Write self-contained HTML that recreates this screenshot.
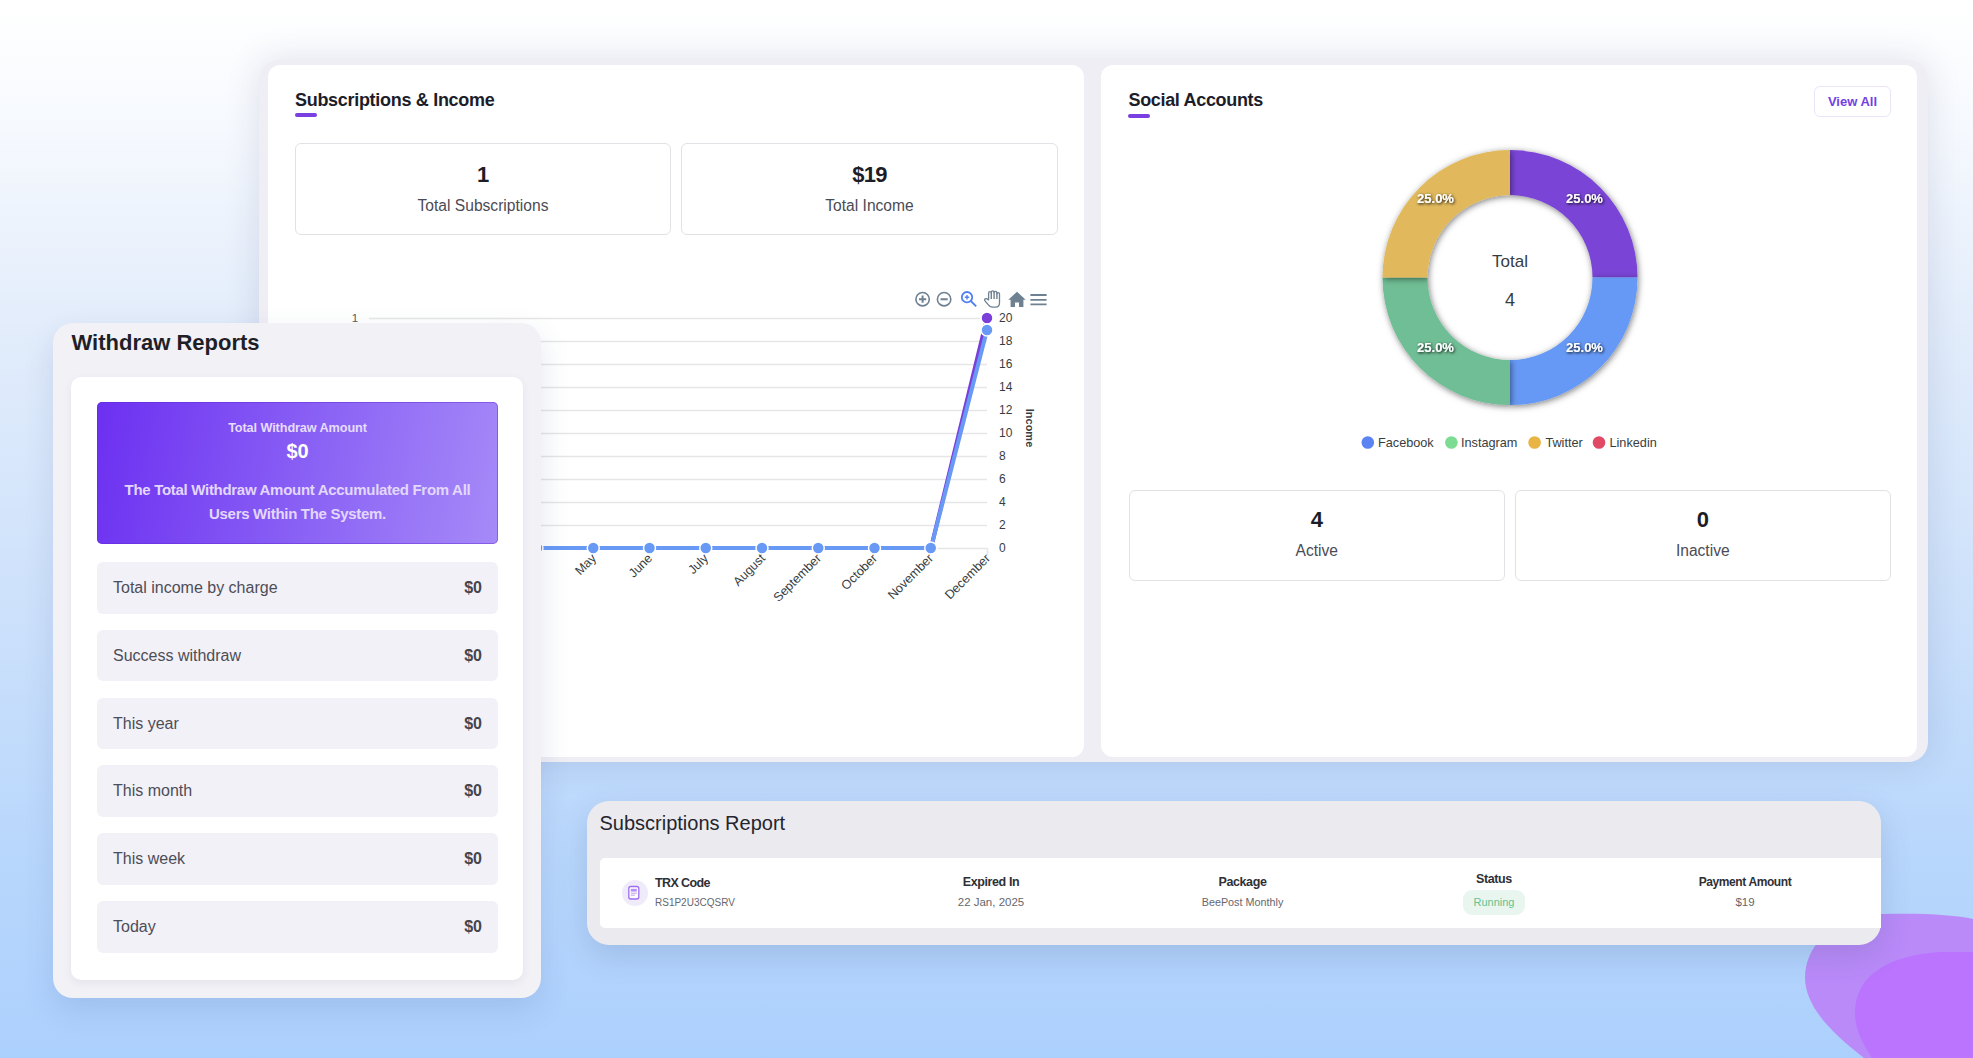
<!DOCTYPE html>
<html><head><meta charset="utf-8">
<style>
*{box-sizing:border-box;margin:0;padding:0}
html,body{width:1973px;height:1058px;overflow:hidden}
body{position:relative;font-family:"Liberation Sans",sans-serif;
background:linear-gradient(180deg,#ffffff 0%,#f6f9fe 12%,#e3edfb 30%,#cfe2fb 55%,#b9d7fc 80%,#acd0fd 100%);}
.abs{position:absolute;white-space:nowrap}
.frame{left:259px;top:60px;width:1669px;height:702px;border-radius:20px;background:#efeef4;box-shadow:0 0 35px rgba(40,50,90,.13)}
.card{background:#fff;border-radius:12px;top:65px;height:692px}
.c1{left:268px;width:816px}
.c2{left:1101px;width:816px}
.title{font-weight:bold;color:#1d1d29;font-size:18px;line-height:18px}
.uline{height:4px;width:22px;border-radius:3px;background:#7a3fe0}
.sbox{border:1.5px solid #e2e2e6;border-radius:6px;background:#fff}
.num{font-weight:bold;color:#1d1d28;font-size:22px;line-height:22px;text-align:center}
.lbl{color:#4b4b55;font-size:15.6px;line-height:16px;text-align:center}
.wpanel{left:53px;top:323px;width:488px;height:675px;border-radius:20px;background:#f2f1f6;box-shadow:0 12px 30px rgba(60,80,140,.14)}
.wcard{left:71px;top:377px;width:452px;height:603px;border-radius:10px;background:#fff;box-shadow:0 3px 8px rgba(60,60,100,.07)}
.row{position:absolute;left:97px;width:401px;height:51.5px;border-radius:6px;background:#f2f1f7}
.row .t{position:absolute;left:16px;top:0;line-height:51px;font-size:16px;color:#4d4d57;white-space:nowrap}
.row .v{position:absolute;right:16px;top:0;line-height:51px;font-size:16px;font-weight:bold;color:#45454e}
.rpanel{left:587px;top:801px;width:1294px;height:144px;border-radius:22px;background:#ebebef;box-shadow:0 10px 30px rgba(60,80,130,.18);overflow:hidden}
.cl{font-size:12px;fill:#373d3f;font-family:"Liberation Sans",sans-serif}
</style></head><body>
<svg class="abs" style="left:0;top:0" width="1973" height="1058">
<path d="M1882 914 C1925 913 1955 915 1973 919 L1973 1058 L1864 1058 C1828 1030 1805 1005 1805 977 C1805 950 1828 916 1882 914 Z" fill="#b98af8"/>
<path d="M1941 952 L1973 952 L1973 1058 L1872 1058 C1862 1042 1855 1030 1855 1012 C1855 975 1890 955 1941 952 Z" fill="#ba74fe"/>
</svg>

<div class="abs frame"></div>
<div class="abs card c1"></div>
<div class="abs card c2"></div>

<!-- Card 1 -->
<div class="abs title" style="left:295px;top:91px;letter-spacing:-0.3px">Subscriptions &amp; Income</div>
<div class="abs uline" style="left:295px;top:113px"></div>
<div class="abs sbox" style="left:295px;top:143px;width:376px;height:92px"></div>
<div class="abs sbox" style="left:681px;top:143px;width:377px;height:92px"></div>
<div class="abs num" style="left:295px;width:376px;top:163.5px">1</div>
<div class="abs lbl" style="left:295px;width:376px;top:197.5px">Total Subscriptions</div>
<div class="abs num" style="left:681px;width:377px;top:163.5px;letter-spacing:-0.8px">$19</div>
<div class="abs lbl" style="left:681px;width:377px;top:197.5px">Total Income</div>

<!-- Chart -->
<svg class="abs" style="left:268px;top:260px" width="816" height="380" viewBox="268 260 816 380">
<g stroke="#e6e6e6" stroke-width="1.6">
<line x1="369" x2="987" y1="318.5" y2="318.5"/><line x1="369" x2="987" y1="341.5" y2="341.5"/>
<line x1="369" x2="987" y1="364.5" y2="364.5"/><line x1="369" x2="987" y1="387.5" y2="387.5"/>
<line x1="369" x2="987" y1="410.5" y2="410.5"/><line x1="369" x2="987" y1="433.5" y2="433.5"/>
<line x1="369" x2="987" y1="456.5" y2="456.5"/><line x1="369" x2="987" y1="479.5" y2="479.5"/>
<line x1="369" x2="987" y1="502.5" y2="502.5"/><line x1="369" x2="987" y1="525.5" y2="525.5"/>
<line x1="369" x2="987" y1="548.5" y2="548.5"/>
<line x1="987.5" x2="987.5" y1="548" y2="555"/>
</g>
<text x="355" y="322" text-anchor="middle" style="font-size:11.5px;fill:#555a5e;font-family:'Liberation Sans'">1</text>
<g class="cl">
<text class="cl" x="999" y="322">20</text><text class="cl" x="999" y="345">18</text>
<text class="cl" x="999" y="368">16</text><text class="cl" x="999" y="391">14</text>
<text class="cl" x="999" y="414">12</text><text class="cl" x="999" y="437">10</text>
<text class="cl" x="999" y="460">8</text><text class="cl" x="999" y="483">6</text>
<text class="cl" x="999" y="506">4</text><text class="cl" x="999" y="529">2</text>
<text class="cl" x="999" y="552">0</text>
</g>
<text x="1026" y="428" transform="rotate(90 1026 428)" text-anchor="middle" style="font-size:11px;font-weight:bold;fill:#373d3f;font-family:'Liberation Sans'">Income</text>
<polyline points="368,548 931,548 987,318" fill="none" stroke="#7a3fd8" stroke-width="4" stroke-linejoin="round"/>
<polyline points="368,548 931,548 987,330" fill="none" stroke="#6899f5" stroke-width="4" stroke-linejoin="round"/>
<g fill="#6899f5" stroke="#fff" stroke-width="1.5">
<circle cx="368.25" cy="548" r="6"/><circle cx="424.5" cy="548" r="6"/><circle cx="480.75" cy="548" r="6"/>
<circle cx="537" cy="548" r="6"/><circle cx="593.25" cy="548" r="6"/><circle cx="649.5" cy="548" r="6"/>
<circle cx="705.75" cy="548" r="6"/><circle cx="762" cy="548" r="6"/><circle cx="818.25" cy="548" r="6"/>
<circle cx="874.5" cy="548" r="6"/><circle cx="930.75" cy="548" r="6"/>
</g>
<circle cx="987" cy="318" r="6" fill="#7a3fd8" stroke="#fff" stroke-width="1.5"/>
<circle cx="987" cy="330" r="6" fill="#6899f5" stroke="#fff" stroke-width="1.5"/>
<g text-anchor="end" style="font-size:12.6px;fill:#373d3f;font-family:'Liberation Sans'">
<text transform="translate(597 559) rotate(-45)">May</text>
<text transform="translate(653 559) rotate(-45)">June</text>
<text transform="translate(709 559) rotate(-45)">July</text>
<text transform="translate(766 559) rotate(-45)">August</text>
<text transform="translate(822 559) rotate(-45)">September</text>
<text transform="translate(878 559) rotate(-45)">October</text>
<text transform="translate(934 559) rotate(-45)">November</text>
<text transform="translate(991 559) rotate(-45)">December</text>
</g>
<!-- toolbar -->
<g fill="none" stroke="#6e8192" stroke-width="1.6">
<circle cx="922.6" cy="299.2" r="6.7"/>
<circle cx="944.1" cy="299.2" r="6.7"/>
</g>
<g stroke="#6e8192" stroke-width="2"><path d="M922.6 295.6v7.2M919 299.2h7.2M940.5 299.2h7.2"/></g>
<g fill="none" stroke="#4f7ff3" stroke-width="1.8">
<circle cx="967" cy="297.2" r="5.2"/><path d="M970.8 301l5.4 5.3"/>
</g>
<path d="M967 295v4.4M964.8 297.2h4.4" stroke="#4f7ff3" stroke-width="1.4"/>
<path d="M988.6 299.8 L988.6 293.2 Q988.6 291.6 990 291.6 Q991.3 291.6 991.3 293.2 L991.3 292.4 Q991.3 290.9 992.7 290.9 Q994.1 290.9 994.1 292.4 L994.1 292.9 Q994.1 291.4 995.5 291.4 Q996.9 291.4 996.9 292.9 L996.9 294 Q996.9 292.6 998.2 292.6 Q999.5 292.6 999.5 294 L999.5 302.8 Q999.5 307.2 995.6 307.2 L992.4 307.2 Q990.2 307.2 988.6 305.2 L985 300.9 Q984.1 299.6 985.3 298.9 Q986.6 298.2 987.6 299.3 Z" fill="#fff" stroke="#6e8192" stroke-width="1.3" stroke-linejoin="round"/>
<path d="M991.3 293v6M994.1 292.5v6.5M996.9 293v6" stroke="#6e8192" stroke-width="1.4"/>
<path d="M1017 291.7 L1008.3 299.8 L1010.6 299.8 L1010.6 307 L1015 307 L1015 302.4 L1019 302.4 L1019 307 L1023.4 307 L1023.4 299.8 L1025.7 299.8 Z" fill="#6e8192"/>
<g stroke="#6e8192" stroke-width="1.8"><path d="M1030.4 295h16.2M1030.4 299.8h16.2M1030.4 304.4h16.2"/></g>
</svg>

<!-- Card 2 -->
<div class="abs title" style="left:1128.5px;top:91px;letter-spacing:-0.33px">Social Accounts</div>
<div class="abs uline" style="left:1128px;top:113.5px"></div>
<div class="abs" style="left:1814px;top:86px;width:77px;height:31px;border:1px solid #ece4fb;border-radius:6px;text-align:center;line-height:29px;font-size:13px;font-weight:bold;color:#7340e2">View All</div>

<svg class="abs" style="left:1360px;top:130px" width="300" height="300" viewBox="1360 130 300 300">
<defs><filter id="ds" x="-20%" y="-20%" width="140%" height="140%"><feDropShadow dx="1" dy="1.5" stdDeviation="3" flood-color="#000" flood-opacity="0.5"/></filter>
<filter id="ts" x="-30%" y="-50%" width="160%" height="200%"><feDropShadow dx="1" dy="1" stdDeviation="1.4" flood-color="#000" flood-opacity="0.95"/></filter></defs>
<path filter="url(#ds)" d="M1510 150.1 A127.5 127.5 0 0 1 1637.5 277.6 L1592.5 277.6 A82.5 82.5 0 0 0 1510 195.1 Z" fill="#7a45d6"/>
<path filter="url(#ds)" d="M1637.5 277.6 A127.5 127.5 0 0 1 1510 405.1 L1510 360.1 A82.5 82.5 0 0 0 1592.5 277.6 Z" fill="#6699f5"/>
<path filter="url(#ds)" d="M1510 405.1 A127.5 127.5 0 0 1 1382.5 277.6 L1427.5 277.6 A82.5 82.5 0 0 0 1510 360.1 Z" fill="#70be95"/>
<path filter="url(#ds)" d="M1382.5 277.6 A127.5 127.5 0 0 1 1510 150.1 L1510 195.1 A82.5 82.5 0 0 0 1427.5 277.6 Z" fill="#e1b95b"/>
<g filter="url(#ts)" style="font-size:13px;font-weight:bold;fill:#fff;font-family:'Liberation Sans'" text-anchor="middle">
<text x="1584.5" y="203">25.0%</text><text x="1435.5" y="203">25.0%</text>
<text x="1435.5" y="352">25.0%</text><text x="1584.5" y="352">25.0%</text>
</g>
<text x="1510" y="267" text-anchor="middle" style="font-size:17px;fill:#373d3f;font-family:'Liberation Sans'">Total</text>
<text x="1510" y="305.5" text-anchor="middle" style="font-size:18px;fill:#373d3f;font-family:'Liberation Sans'">4</text>
</svg>

<svg class="abs" style="left:1350px;top:430px" width="320" height="26" viewBox="1350 430 320 26">
<circle cx="1367.8" cy="442.5" r="6.3" fill="#5b84f2"/><circle cx="1451.4" cy="442.5" r="6.3" fill="#7ddc94"/>
<circle cx="1534.6" cy="442.5" r="6.3" fill="#e8b444"/><circle cx="1599" cy="442.5" r="6.3" fill="#e04a65"/>
<g style="font-size:12.7px;fill:#373d3f;font-family:'Liberation Sans'">
<text x="1378" y="447">Facebook</text><text x="1461" y="447">Instagram</text>
<text x="1545.4" y="447">Twitter</text><text x="1609.5" y="447">Linkedin</text>
</g>
</svg>

<div class="abs sbox" style="left:1128.5px;top:490px;width:376.5px;height:91px"></div>
<div class="abs sbox" style="left:1514.5px;top:490px;width:376.5px;height:91px"></div>
<div class="abs num" style="left:1128.5px;width:376.5px;top:509px">4</div>
<div class="abs lbl" style="left:1128.5px;width:376.5px;top:542.5px">Active</div>
<div class="abs num" style="left:1514.5px;width:376.5px;top:509px">0</div>
<div class="abs lbl" style="left:1514.5px;width:376.5px;top:542.5px">Inactive</div>

<!-- Withdraw -->
<div class="abs wpanel"></div>
<div class="abs wcard"></div>
<div class="abs" style="left:71.5px;top:332.3px;font-size:22px;line-height:22px;font-weight:bold;color:#1f1f28">Withdraw Reports</div>
<div class="abs" style="left:97px;top:402px;width:401px;height:142px;border-radius:5px;background:linear-gradient(100deg,#6c30f1 0%,#8b63f5 55%,#a68af8 100%);box-shadow:inset 0 0 0 1px rgba(100,40,210,.45)"></div>
<div class="abs" style="left:97px;width:401px;top:422px;text-align:center;font-size:12.7px;line-height:13px;font-weight:bold;color:#e6dcfd;letter-spacing:-0.1px">Total Withdraw Amount</div>
<div class="abs" style="left:97px;width:401px;top:440.5px;text-align:center;font-size:20px;line-height:20px;font-weight:bold;color:#fff">$0</div>
<div class="abs" style="left:97px;width:401px;top:478px;text-align:center;font-size:15px;line-height:24px;font-weight:bold;color:#e3d8fc;letter-spacing:-0.3px;white-space:normal">The Total Withdraw Amount Accumulated From All<br>Users Within The System.</div>

<div class="row" style="top:562px"><span class="t">Total income by charge</span><span class="v">$0</span></div>
<div class="row" style="top:629.8px"><span class="t">Success withdraw</span><span class="v">$0</span></div>
<div class="row" style="top:697.6px"><span class="t">This year</span><span class="v">$0</span></div>
<div class="row" style="top:765.4px"><span class="t">This month</span><span class="v">$0</span></div>
<div class="row" style="top:833.2px"><span class="t">This week</span><span class="v">$0</span></div>
<div class="row" style="top:901px"><span class="t">Today</span><span class="v">$0</span></div>

<!-- Subscriptions report -->
<div class="abs rpanel"></div>
<div class="abs" style="left:599.5px;top:813px;font-size:20px;line-height:20px;color:#25252d">Subscriptions Report</div>
<div class="abs" style="left:600px;top:858px;width:1281px;height:70px;background:#fff;border-radius:5px 0 0 5px"></div>
<div class="abs" style="left:621.5px;top:880px;width:26px;height:26px;border-radius:50%;background:#f0ebfb"></div>
<svg class="abs" style="left:626px;top:884px" width="16" height="18" viewBox="626 884 16 18">
<rect x="628.8" y="886.5" width="10" height="12.5" rx="2" fill="#fff" stroke="#9d6ef0" stroke-width="1.3"/>
<rect x="630.8" y="888.8" width="6" height="2.8" fill="#b592f4"/>
<path d="M630.8 893.2h6M630.8 895.2h4" stroke="#b592f4" stroke-width="0.9"/>
</svg>
<div class="abs" style="left:655px;top:877px;font-size:12.5px;line-height:12px;font-weight:bold;color:#2f2f36;letter-spacing:-0.6px">TRX Code</div>
<div class="abs" style="left:655px;top:897.5px;font-size:10px;line-height:10px;color:#66666e">RS1P2U3CQSRV</div>
<div class="abs" style="left:891px;width:200px;top:876px;text-align:center;font-size:12.5px;line-height:12px;font-weight:bold;color:#2f2f36;letter-spacing:-0.4px">Expired In</div>
<div class="abs" style="left:891px;width:200px;top:897px;text-align:center;font-size:11.5px;line-height:11px;color:#66666e">22 Jan, 2025</div>
<div class="abs" style="left:1142.5px;width:200px;top:876px;text-align:center;font-size:12.5px;line-height:12px;font-weight:bold;color:#2f2f36;letter-spacing:-0.4px">Package</div>
<div class="abs" style="left:1142.5px;width:200px;top:897px;text-align:center;font-size:10.8px;line-height:11px;color:#66666e">BeePost Monthly</div>
<div class="abs" style="left:1394px;width:200px;top:873px;text-align:center;font-size:12.5px;line-height:12px;font-weight:bold;color:#2f2f36;letter-spacing:-0.4px">Status</div>
<div class="abs" style="left:1463px;top:890px;width:62px;height:25px;border-radius:9px;background:#e8f6ef;text-align:center;line-height:25px;font-size:11px;color:#66c28f">Running</div>
<div class="abs" style="left:1645px;width:200px;top:876px;text-align:center;font-size:12px;line-height:12px;font-weight:bold;color:#2f2f36;letter-spacing:-0.4px">Payment Amount</div>
<div class="abs" style="left:1645px;width:200px;top:897px;text-align:center;font-size:11.5px;line-height:11px;color:#66666e">$19</div>
</body></html>
